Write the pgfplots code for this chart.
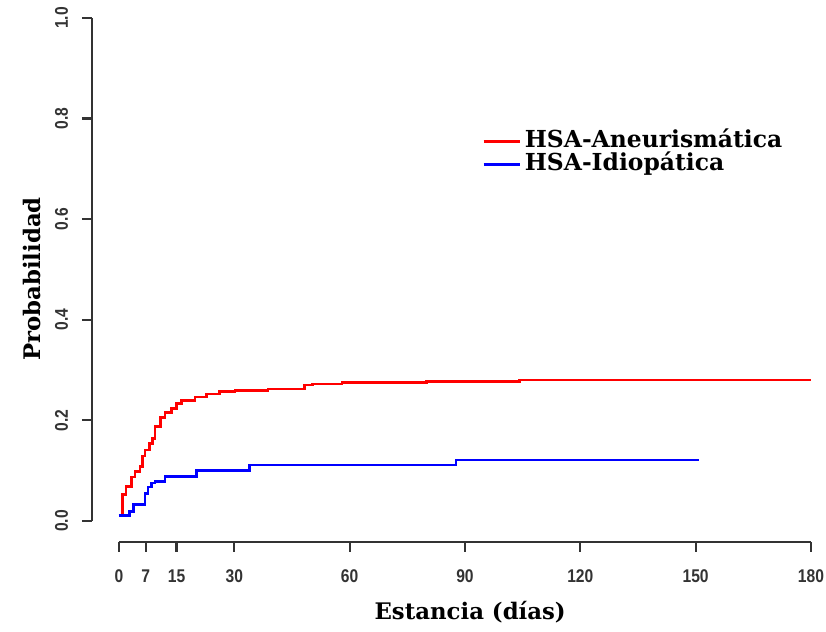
\documentclass[border=0pt]{standalone}
\usepackage{pgfplots}
\pgfplotsset{compat=1.18}
\usepackage{fontspec}
\setmainfont{DejaVu Serif}
\newfontfamily\tickfont{Liberation Sans}[FakeStretch=0.85]
\definecolor{axgray}{HTML}{333333}
\begin{document}
\begin{tikzpicture}
\begin{axis}[
  scale only axis, width=359.5pt, height=262pt,
  xmin=-7, xmax=180, ymin=-0.042, ymax=1,
  axis x line*=bottom, axis y line*=left,
  axis line style={draw=none},
  clip=false,
  xtick={0,7,15,30,60,90,120,150,180},
  ytick={0,0.2,0.4,0.6,0.8,1.0},
  tick align=outside,
  major tick length=5pt,
  tick style={axgray, line width=1.1pt},
  xticklabel shift=5.5pt,
  yticklabel shift=3.5pt,
  /pgf/number format/assume math mode=true,
  ticklabel style={font=\tickfont\bfseries\fontsize{9.2}{10}\selectfont, text=axgray},
  yticklabel style={rotate=90, anchor=south, /pgf/number format/.cd, fixed, fixed zerofill, precision=1},
  xlabel={Estancia (días)},
  ylabel={Probabilidad},
  label style={font=\bfseries\fontsize{11.4}{12}\selectfont},
  xlabel style={at={(axis description cs:0.526,-0.1336)}, anchor=center},
  ylabel style={at={(axis description cs:-0.0834,0.502)}, anchor=center},
  legend style={draw=none, fill=none, at={(axis cs:94.4,0.777)}, anchor=north west,
    font=\bfseries\fontsize{11.7}{12}\selectfont, row sep=0.5pt, column sep=2pt, inner sep=0pt,
    nodes={inner sep=0pt, text height=8.5pt, text depth=2.5pt}},
  legend cell align=left,
  legend image code/.code={\draw[#1, line width=1.3pt] (0pt,0pt) -- (18pt,0pt);},
]
\draw[axgray, line width=1.1pt] (axis cs:0,-0.042) -- (axis cs:180,-0.042);
\draw[axgray, line width=1.1pt] (axis cs:-7,0) -- (axis cs:-7,1);
\addplot[const plot, red, line width=1.3pt] coordinates {
(0,0.012) (1.0,0.052) (1.8,0.068) (3.3,0.087) (4.2,0.098) (5.5,0.108)
(6.2,0.129) (6.8,0.141) (7.9,0.154) (8.8,0.164) (9.4,0.188) (10.8,0.206)
(12.0,0.215) (13.7,0.224) (15.0,0.234) (16.3,0.239) (19.8,0.246) (22.8,0.252)
(26.2,0.257) (30.2,0.259) (38.8,0.262) (48.2,0.270) (50.4,0.272) (58.0,0.275)
(80.0,0.277) (104.2,0.280) (180,0.280)};
\addlegendentry{HSA-Aneurismática}
\addplot[const plot, blue, line width=1.3pt] coordinates {
(0,0.011) (2.8,0.019) (3.8,0.033) (6.8,0.055) (7.6,0.067) (8.5,0.075)
(9.4,0.078) (12.0,0.088) (20.2,0.100) (34.0,0.111) (87.7,0.121) (151,0.121)};
\addlegendentry{HSA-Idiopática}
\end{axis}
\pgfresetboundingbox
\path ([xshift=-46pt,yshift=-45pt]current axis.south west) rectangle ([xshift=7.5pt,yshift=9pt]current axis.north east);
\end{tikzpicture}
\end{document}
